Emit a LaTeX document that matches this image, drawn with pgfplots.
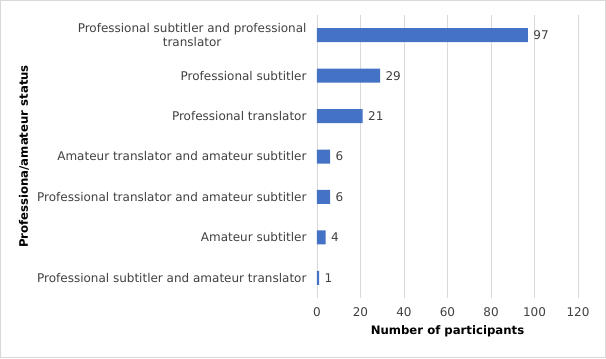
\documentclass[border=0pt]{standalone}
\usepackage{pgfplots}
\pgfplotsset{compat=1.18}
\usepackage{fontspec}
\setmainfont{DejaVu Sans}
\definecolor{barblue}{HTML}{4472C4}
\definecolor{gridgray}{HTML}{D9D9D9}
\definecolor{txtgray}{HTML}{404040}
\begin{document}
\begin{tikzpicture}[x=1bp,y=1bp]
\draw[gridgray, line width=1bp] (-316.5,297.5) rectangle (288.5,-59.5);
\begin{axis}[
  at={(0,0)}, anchor=south west,
  scale only axis, width=261bp, height=283bp,
  xbar, bar width=14bp,
  xmin=0, xmax=120, xtick={0,20,...,120},
  ymin=0.5, ymax=7.5, ytick={1,...,7},
  yticklabels={Professional subtitler and amateur translator,
    Amateur subtitler,
    Professional translator and amateur subtitler,
    Amateur translator and amateur subtitler,
    Professional translator,
    Professional subtitler,
    {Professional subtitler and professional\\translator}},
  axis line style={draw=none},
  xmajorgrids, grid style={gridgray, line width=0.75bp},
  major tick length=0pt,
  /pgf/number format/assume math mode=true,
  font=\fontsize{12bp}{13.5bp}\selectfont,
  tick label style={text=txtgray},
  yticklabel style={align=center, xshift=-7bp},
  xticklabel style={yshift=-6bp},
  xlabel={\textbf{Number of participants}},
  ylabel={\textbf{Professiona/amateur status}},
  label style={font=\fontsize{11.7bp}{13bp}\selectfont, text=black},
  xlabel style={at={(axis description cs:0.5,-0.117)}, anchor=center},
  ylabel style={at={(axis description cs:-1.123,0.5)}, anchor=center},
  nodes near coords,
  nodes near coords style={anchor=west, xshift=2bp, text=txtgray, font=\fontsize{12bp}{13.5bp}\selectfont},
  point meta=x,
  clip=false,
]
\addplot[fill=barblue, draw=none] coordinates {
  (1,1) (4,2) (6,3) (6,4) (21,5) (29,6) (97,7)
};
\end{axis}
\end{tikzpicture}
\end{document}
